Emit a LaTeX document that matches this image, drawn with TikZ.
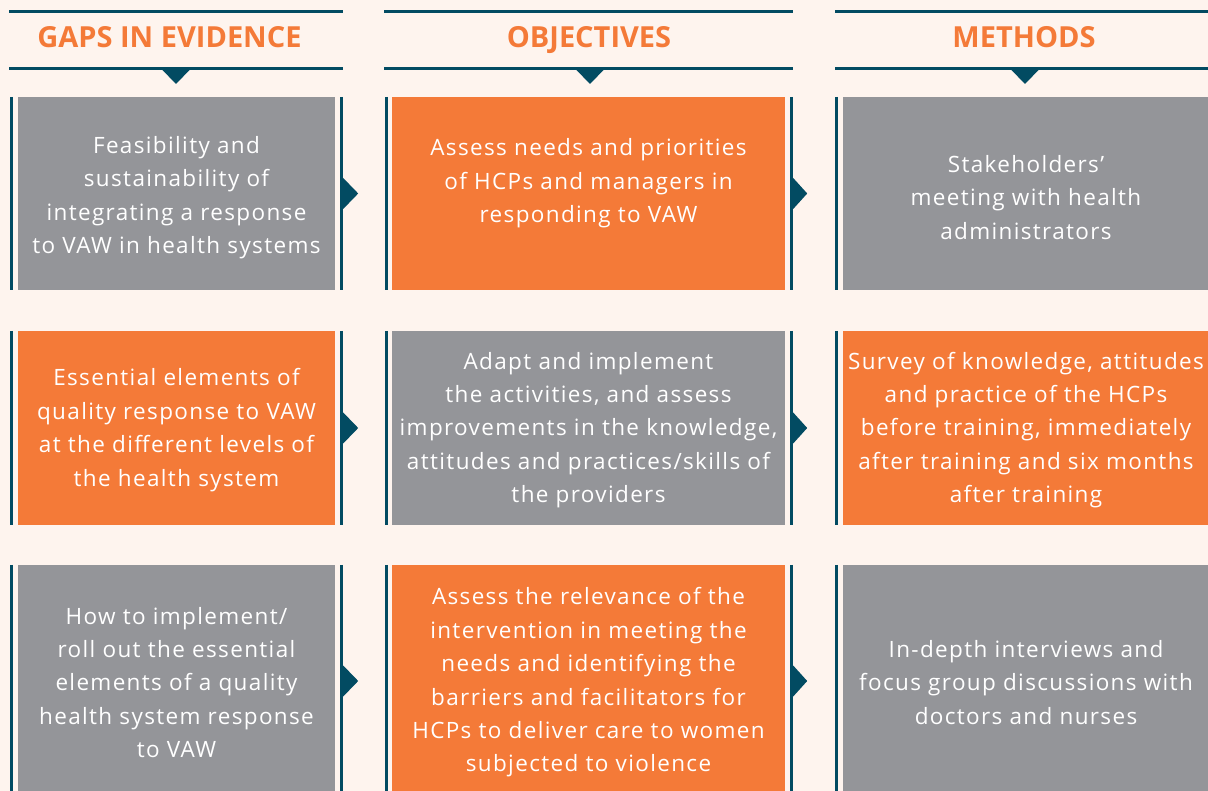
\documentclass[tikz,border=0pt]{standalone}
\usepackage{fontspec}
\setmainfont{Open Sans}
\newfontfamily\boxfont[LetterSpace=6]{Open Sans}
\usepackage{xcolor}
\usepackage{tikz}
\usetikzlibrary{positioning}
\definecolor{bgpeach}{HTML}{FEF4EE}
\definecolor{boxgray}{HTML}{949599}
\definecolor{boxorange}{HTML}{F47A38}
\definecolor{darkteal}{HTML}{024B62}
\tikzstyle{head} = [text=boxorange, font=\fontsize{29}{30}\selectfont\bfseries, anchor=base, inner sep=0pt]
\tikzstyle{headline} = [darkteal, line width=3pt]
\tikzstyle{bar} = [darkteal, line width=3pt]
\tikzstyle{graybox} = [rectangle, fill=boxgray, inner sep=0pt]
\tikzstyle{orangebox} = [rectangle, fill=boxorange, inner sep=0pt]
\tikzstyle{boxtext} = [text=white, align=center, inner sep=0pt, font=\boxfont\fontsize{22.5}{33.4}\selectfont]

\begin{document}
\begin{tikzpicture}[x=1pt, y=-1pt]
		\fill[bgpeach] (0,0) rectangle (1208,791);
		\useasboundingbox (0,0) rectangle (1208,791);
		\clip (0,0) rectangle (1208,791);
		\coordinate (gaps1) at (176.5,193.5);
		\coordinate (gaps2) at (176.5,428);
		\coordinate (gaps3) at (176.5,681);
		\coordinate (obj1) at (588.5,193.5);
		\coordinate (obj2) at (588.5,428);
		\coordinate (obj3) at (588.5,681);
		\coordinate (meth1) at (1026,193.5);
		\coordinate (meth2) at (1026,428);
		\coordinate (meth3) at (1026,681);
		% Headers
		\node[head, name=gapshead] at (169.5,48) {GAPS IN EVIDENCE};
		\node[head, name=objhead] at (589,48) {OBJECTIVES};
		\node[head, name=methhead] at (1024,48) {METHODS};
		\draw[headline] (9,11.5) -- (343,11.5);
		\draw[headline] (9,68.5) -- (343,68.5);
		\draw[headline] (384,11.5) -- (793,11.5);
		\draw[headline] (384,68.5) -- (793,68.5);
		\draw[headline] (835,11.5) -- (1208,11.5);
		\draw[headline] (835,68.5) -- (1208,68.5);
		\fill[darkteal] (161,68.5) -- (191,68.5) -- (176,84) -- cycle;
		\fill[darkteal] (575,68.5) -- (605,68.5) -- (590,84) -- cycle;
		\fill[darkteal] (1010,68.5) -- (1040,68.5) -- (1025,84) -- cycle;
		% Gaps in evidence
		\begin{scope}[every node/.append style={minimum width=317pt}]
		\node[graybox, name=g1, minimum height=193pt] at (gaps1) {};
		\node[orangebox, name=g2, minimum height=194pt] at (gaps2) {};
		\node[graybox, name=g3, minimum height=232pt] at (gaps3) {};
		\end{scope}
		% Objectives
		\begin{scope}[every node/.append style={minimum width=393pt}]
		\node[orangebox, name=o1, minimum height=193pt] at (obj1) {};
		\node[graybox, name=o2, minimum height=194pt] at (obj2) {};
		\node[orangebox, name=o3, minimum height=232pt] at (obj3) {};
		\end{scope}
		% Methods
		\begin{scope}[every node/.append style={minimum width=366pt}]
		\node[graybox, name=m1, minimum height=193pt] at (meth1) {};
		\node[orangebox, name=m2, minimum height=194pt] at (meth2) {};
		\node[graybox, name=m3, minimum height=232pt] at (meth3) {};
		\end{scope}
		% Box texts
		\begin{scope}[every node/.append style={yshift=-4pt}]
		\node[boxtext, name=g1txt] at (g1) {Feasibility and\\ sustainability of\\ integrating a response\\ to VAW in health systems};
		\node[boxtext, name=o1txt] at (o1) {Assess needs and priorities\\ of HCPs and managers in\\ responding to VAW\\ ~};
		\node[boxtext, name=m1txt] at (m1) {Stakeholders’\\ meeting with health\\ administrators};
		\end{scope}
		\begin{scope}[every node/.append style={yshift=-2pt}]
		\node[boxtext, name=g2txt] at (g2) {Essential elements of\\ quality response to VAW\\ at the different levels of\\ the health system};
		\node[boxtext, name=o2txt] at (o2) {Adapt and implement\\ the activities, and assess\\ improvements in the knowledge,\\ attitudes and practices/skills of\\ the providers};
		\node[boxtext, name=m2txt] at (m2) {Survey of knowledge, attitudes\\ and practice of the HCPs\\ before training, immediately\\ after training and six months\\ after training};
		\end{scope}
		\begin{scope}[every node/.append style={yshift=-1.5pt}]
		\node[boxtext, name=g3txt] at (g3) {How to implement/\\ roll out the essential\\ elements of a quality\\ health system response\\ to VAW};
		\node[boxtext, name=o3txt] at (o3) {Assess the relevance of the\\ intervention in meeting the\\ needs and identifying the\\ barriers and facilitators for\\ HCPs to deliver care to women\\ subjected to violence};
		\node[boxtext, name=m3txt] at (m3) {In-depth interviews and\\ focus group discussions with\\ doctors and nurses};
		\end{scope}
		% side bars
		\draw[bar] ([xshift=-6.5pt]g1.north west) -- ([xshift=-6.5pt]g1.south west);
		\draw[bar] ([xshift=6.5pt]g1.north east) -- ([xshift=6.5pt]g1.south east);
		\draw[bar] ([xshift=-6.5pt]g2.north west) -- ([xshift=-6.5pt]g2.south west);
		\draw[bar] ([xshift=6.5pt]g2.north east) -- ([xshift=6.5pt]g2.south east);
		\draw[bar] ([xshift=-6.5pt]g3.north west) -- ([xshift=-6.5pt]g3.south west);
		\draw[bar] ([xshift=6.5pt]g3.north east) -- ([xshift=6.5pt]g3.south east);
		\draw[bar] ([xshift=-5.5pt]o1.north west) -- ([xshift=-5.5pt]o1.south west);
		\draw[bar] ([xshift=6.5pt]o1.north east) -- ([xshift=6.5pt]o1.south east);
		\draw[bar] ([xshift=-5.5pt]o2.north west) -- ([xshift=-5.5pt]o2.south west);
		\draw[bar] ([xshift=6.5pt]o2.north east) -- ([xshift=6.5pt]o2.south east);
		\draw[bar] ([xshift=-5.5pt]o3.north west) -- ([xshift=-5.5pt]o3.south west);
		\draw[bar] ([xshift=6.5pt]o3.north east) -- ([xshift=6.5pt]o3.south east);
		\draw[bar] ([xshift=-6.5pt]m1.north west) -- ([xshift=-6.5pt]m1.south west);
		\draw[bar] ([xshift=-6.5pt]m2.north west) -- ([xshift=-6.5pt]m2.south west);
		\draw[bar] ([xshift=-6.5pt]m3.north west) -- ([xshift=-6.5pt]m3.south west);
		% arrow heads between columns
		\fill[darkteal] ([shift={(8,-15.5)}]g1.east) -- ([shift={(23,0)}]g1.east) -- ([shift={(8,15.5)}]g1.east) -- cycle;
		\fill[darkteal] ([shift={(8,-15.5)}]g2.east) -- ([shift={(23,0)}]g2.east) -- ([shift={(8,15.5)}]g2.east) -- cycle;
		\fill[darkteal] ([shift={(8,-15.5)}]g3.east) -- ([shift={(23,0)}]g3.east) -- ([shift={(8,15.5)}]g3.east) -- cycle;
		\fill[darkteal] ([shift={(8,-15.5)}]o1.east) -- ([shift={(22,0)}]o1.east) -- ([shift={(8,15.5)}]o1.east) -- cycle;
		\fill[darkteal] ([shift={(8,-15.5)}]o2.east) -- ([shift={(22,0)}]o2.east) -- ([shift={(8,15.5)}]o2.east) -- cycle;
		\fill[darkteal] ([shift={(8,-15.5)}]o3.east) -- ([shift={(22,0)}]o3.east) -- ([shift={(8,15.5)}]o3.east) -- cycle;
\end{tikzpicture}
\end{document}
